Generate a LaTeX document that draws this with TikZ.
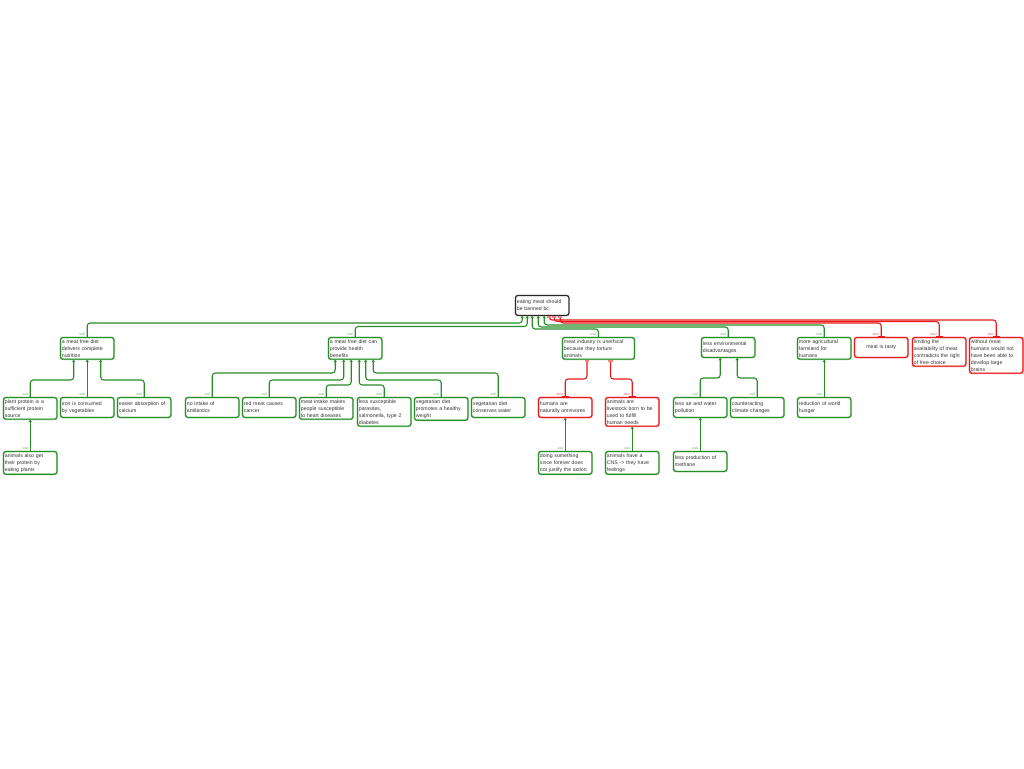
\documentclass[tikz,border=0pt]{standalone}
\usepackage{fontspec}
\setmainfont{Liberation Sans}
\usetikzlibrary{arrows.meta}
\definecolor{weilgreen}{RGB}{40,140,40}
\definecolor{weillight}{RGB}{140,200,140}
\definecolor{aberred}{RGB}{232,25,25}
\definecolor{aberlight}{RGB}{245,130,130}

\begin{document}
\begin{tikzpicture}[x=1pt,y=-1pt,
    box/.style={rounded corners=2.5pt,line width=0.9pt,anchor=north west,align=left,
        text width=50.5pt,inner xsep=1.5pt,inner ysep=2pt,minimum height=20pt,
        font=\fontsize{5.2}{7}\selectfont,text=black!80},
    arg node/.style={box,draw=weilgreen,preaction={draw=weillight,line width=1.8pt}},
    con node/.style={box,draw=aberred,preaction={draw=aberlight,line width=1.8pt}},
    root node/.style={box,draw=black!85,preaction={draw=black!35,line width=1.8pt}},
    weil edge/.style={draw=weilgreen,line width=1.1pt,rounded corners=3pt,-{Stealth[length=2.5pt,width=3.5pt]}},
    aber edge/.style={draw=aberred,line width=1.1pt,rounded corners=3pt,{Bar[width=7pt]}-{Rectangle[length=2pt,width=4.5pt,color=aberlight]}},
    weil lbl/.style={anchor=south east,xshift=-1.5pt,yshift=1pt,inner sep=0pt,font=\fontsize{3.3}{3.3}\selectfont,text=weilgreen!70},
    aber lbl/.style={weil lbl,text=aberred!70}]
    \useasboundingbox (0,0) rectangle (1024,768);

    \node[root node] at (515,295) (root) {eating meat should\\be banned bc.};

    % first level
    \node[arg node] at (60,337) (A) {a meat free diet\\delivers complete\\nutrition};
    \node[arg node] at (328,337) (B) {a meat free diet can\\provide health\\benefits};
    \node[arg node,text width=69pt] at (562,337) (C) {meat industry is unethical\\because they torture\\animals};
    \node[arg node] at (701,337) (D) {less environmental\\disadvantages};
    \node[arg node] at (797,337) (E) {more agricultural\\farmland for\\humans};
    \node[con node,align=center] at (854,337) (F) {meat is tasty};
    \node[con node] at (912,337) (G) {limiting the\\availability of meat\\contradicts the right\\of free choice};
    \node[con node] at (969,337) (H) {without meat\\humans would not\\have been able to\\develop large\\brains};

    % second level
    \node[arg node] at (3,397) (A1) {plant protein is a\\sufficient protein\\source};
    \node[arg node] at (60,397) (A2) {iron is consumed\\by vegetables};
    \node[arg node] at (117,397) (A3) {easier absorption of\\calcium};
    \node[arg node] at (185,397) (B1) {no intake of\\antibiotics};
    \node[arg node] at (242,397) (B2) {red meat causes\\cancer};
    \node[arg node] at (299,397) (B3) {meat intake makes\\people susceptible\\to heart diseases};
    \node[arg node] at (357,397) (B4) {less susceptible\\parasites,\\salmonella, type 2\\diabetes};
    \node[arg node] at (414,397) (B5) {vegetarian diet\\promotes a healthy\\weight};
    \node[arg node] at (471,397) (B6) {vegetarian diet\\conserves water};
    \node[con node] at (538,397) (C1) {humans are\\naturally omnivores};
    \node[con node] at (605,397) (C2) {animals are\\livestock born to be\\used to fulfill\\human needs};
    \node[arg node] at (673,397) (D1) {less air and water\\pollution};
    \node[arg node] at (730,397) (D2) {counteracting\\climate changes};
    \node[arg node] at (797,397) (E1) {reduction of world\\hunger};

    % third level
    \node[arg node] at (3,451) (A1a) {animals also get\\their protein by\\eating plants};
    \node[arg node] at (538,451) (C1a) {doing something\\since forever does\\not justify the action};
    \node[arg node] at (605,451) (C2a) {animals have a\\CNS -> they have\\feelings};
    \node[arg node] at (673,451) (D1a) {less production of\\methane};

    % connectors to the root
    \draw[weil edge] (A.north) node[weil lbl] {weil} -- ++(0,-14) -| ([xshift=-20pt]root.south);
    \draw[weil edge] (B.north) node[weil lbl] {weil} -- ++(0,-10.5) -| ([xshift=-15pt]root.south);
    \draw[weil edge] (C.north) node[weil lbl] {weil} -- ++(0,-8) -| ([xshift=-10pt]root.south);
    \draw[weil edge] (D.north) node[weil lbl] {weil} -- ++(0,-10) -| ([xshift=-4pt]root.south);
    \draw[weil edge] (E.north) node[weil lbl] {weil} -- ++(0,-12) -| ([xshift=2pt]root.south);
    \draw[aber edge] (F.north) node[aber lbl] {aber} -- ++(0,-14) -| ([xshift=18pt]root.south);
    \draw[aber edge] (G.north) node[aber lbl] {aber} -- ++(0,-15.5) -| ([xshift=12pt]root.south);
    \draw[aber edge] (H.north) node[aber lbl] {aber} -- ++(0,-17) -| ([xshift=7pt]root.south);

    % connectors to the first level
    \draw[weil edge] (A1.north) node[weil lbl] {weil} -- ++(0,-17) -| ([xshift=-13.5pt]A.south);
    \draw[weil edge] (A2.north) node[weil lbl] {weil} -- (A.south);
    \draw[weil edge] (A3.north) node[weil lbl] {weil} -- ++(0,-17) -| ([xshift=13.5pt]A.south);
    \draw[weil edge] (B1.north) node[weil lbl] {weil} -- ++(0,-24) -| ([xshift=-20pt]B.south);
    \draw[weil edge] (B2.north) node[weil lbl] {weil} -- ++(0,-17) -| ([xshift=-11.5pt]B.south);
    \draw[weil edge] (B3.north) node[weil lbl] {weil} -- ++(0,-12) -| ([xshift=-4pt]B.south);
    \draw[weil edge] (B4.north) node[weil lbl] {weil} -- ++(0,-12) -| ([xshift=4pt]B.south);
    \draw[weil edge] (B5.north) node[weil lbl] {weil} -- ++(0,-17) -| ([xshift=10.5pt]B.south);
    \draw[weil edge] (B6.north) node[weil lbl] {weil} -- ++(0,-24) -| ([xshift=18pt]B.south);
    \draw[aber edge] (C1.north) node[aber lbl] {aber} -- ++(0,-18) -| ([xshift=-11.5pt]C.south);
    \draw[aber edge] (C2.north) node[aber lbl] {aber} -- ++(0,-18) -| ([xshift=12pt]C.south);
    \draw[weil edge] (D1.north) node[weil lbl] {weil} -- ++(0,-19) -| ([xshift=-8pt]D.south);
    \draw[weil edge] (D2.north) node[weil lbl] {weil} -- ++(0,-19) -| ([xshift=9pt]D.south);
    \draw[weil edge] (E1.north) node[weil lbl] {weil} -- (E.south);

    % connectors to the second level
    \draw[weil edge] (A1a.north) node[weil lbl] {weil} -- (A1.south);
    \draw[weil edge] (C1a.north) node[weil lbl] {weil} -- (C1.south);
    \draw[weil edge] (C2a.north) node[weil lbl] {weil} -- (C2.south);
    \draw[weil edge] (D1a.north) node[weil lbl] {weil} -- (D1.south);
\end{tikzpicture}
\end{document}
